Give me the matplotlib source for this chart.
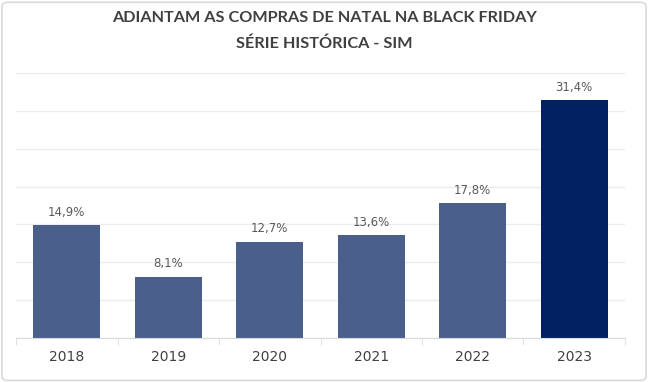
import matplotlib.pyplot as plt
from matplotlib.patches import FancyBboxPatch

years = ['2018', '2019', '2020', '2021', '2022', '2023']
values = [14.9, 8.1, 12.7, 13.6, 17.8, 31.4]
labels = ['14,9%', '8,1%', '12,7%', '13,6%', '17,8%', '31,4%']
colors = ['#4a5f8c'] * 5 + ['#002060']

fig = plt.figure(figsize=(6.48, 3.82), dpi=100)
fig.patch.set_facecolor('white')
fig.patches.append(FancyBboxPatch(
    (0.003, 0.004), 0.994, 0.99, boxstyle='round,pad=0,rounding_size=0.01',
    transform=fig.transFigure, fill=False, edgecolor='#d9d9d9', linewidth=1.2))

ax = fig.add_axes([0.0247, 0.1152, 0.9398, 0.6937])
x = range(len(years))
bars = ax.bar(x, values, width=0.66, color=colors, zorder=2)

for b, lab in zip(bars, labels):
    ax.text(b.get_x() + b.get_width() / 2, b.get_height() + 0.85, lab,
            ha='center', va='bottom', fontsize=8.5, color='#595959',
            family='DejaVu Sans')

ax.set_xlim(-0.5, len(years) - 0.5)
ax.set_ylim(0, 35)
ax.set_yticks(range(0, 36, 5))
ax.yaxis.grid(True, color='#ececec', linewidth=1, zorder=0)
ax.tick_params(axis='y', left=False, labelleft=False)

ax.set_xticks(x)
ax.set_xticklabels(years, fontsize=10, color='#404040')
ax.set_xticks([i - 0.5 for i in range(len(years) + 1)], minor=True)
ax.tick_params(axis='x', which='major', length=0, pad=9)
ax.tick_params(axis='x', which='minor', length=5, color='#d9d9d9')

for s in ['top', 'right', 'left']:
    ax.spines[s].set_visible(False)
ax.spines['bottom'].set_color('#d9d9d9')

fig.text(0.5, 0.952, 'ADIANTAM AS COMPRAS DE NATAL NA BLACK FRIDAY',
         ha='center', va='center', fontsize=11.7, fontweight='bold',
         color='#404040', family='Lato')
fig.text(0.5, 0.885, 'SÉRIE HISTÓRICA - SIM', ha='center', va='center',
         fontsize=11.7, fontweight='bold', color='#404040', family='Lato')

fig.savefig('out.png', dpi=100)
